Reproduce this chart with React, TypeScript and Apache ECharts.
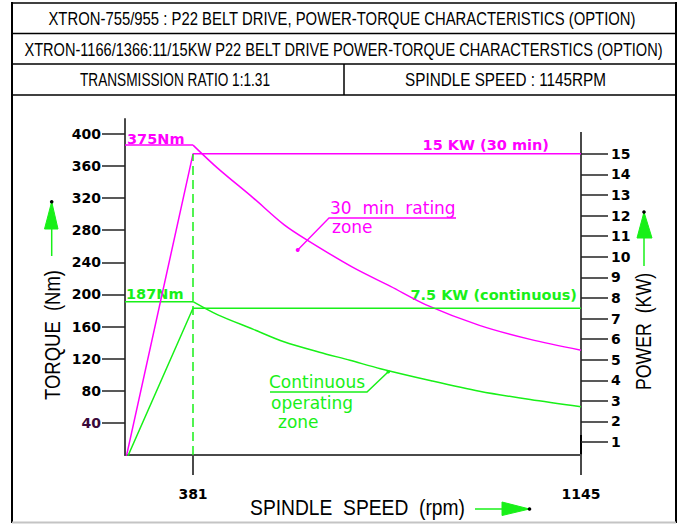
import React, { useEffect, useRef } from "react";
import * as echarts from "echarts";

// ---- data ----
const rpmS6 = [0, 381, 430, 500, 560, 605, 695, 770, 840, 945, 1045, 1145];
const torqueS6 = [386, 386, 357, 320, 287, 268, 234, 210, 187, 161.5, 144, 130.5];
const rpmS1 = [0, 381, 430, 500, 560, 630, 690, 750, 850, 945, 1045, 1145];
const torqueS1 = [191, 191, 174.5, 156.5, 141, 128, 118, 107.5, 92.5, 79.5, 69, 60];
const powerRpm = [0, 381, 1145];
const powerS6 = [0, 15, 15];
const powerS1 = [0, 7.5, 7.5];
const torqueTicks = [40, 80, 120, 160, 200, 240, 280, 320, 360, 400];
const powerTicks = [1, 2, 3, 4, 5, 6, 7, 8, 9, 10, 11, 12, 13, 14, 15];
const speedTicks = [381, 1145];
const baseSpeed = 381;
const maxSpeed = 1145;

// the drawing is not to scale on the speed axis: two linear segments
const SEG1 = 68;
const SEG2 = 388;
function speedPos(rpm: number) {
  return rpm <= baseSpeed
    ? (rpm * SEG1) / baseSpeed
    : SEG1 + ((rpm - baseSpeed) * SEG2) / (maxSpeed - baseSpeed);
}

const MAG = "#ff00ff";
const GRN = "#18f018";
const AX = "#4a4a4a";

function measure(text: string, font: string) {
  const c = document.createElement("canvas").getContext("2d")!;
  c.font = font;
  return c.measureText(text).width;
}

function fitText(
  text: string,
  cx: number,
  cy: number,
  width: number,
  size: number,
  family: string,
  rotation = 0,
  fill = "#000"
) {
  const w = measure(text, `${size}px ${family}`);
  return {
    type: "text",
    x: cx,
    y: cy,
    rotation,
    scaleX: width / w,
    style: {
      text,
      fontSize: size,
      fontFamily: family,
      fill,
      textAlign: "center",
      textVerticalAlign: "middle",
    },
  };
}

function txt(
  text: string,
  x: number,
  y: number,
  color: string,
  size: number,
  bold: boolean,
  align = "left"
) {
  return {
    type: "text",
    x,
    y,
    style: {
      text,
      fontSize: size,
      fontFamily: "DejaVu Sans",
      fontWeight: bold ? "bold" : "normal",
      fill: color,
      textAlign: align,
      textVerticalAlign: "middle",
    },
  };
}

function line(x1: number, y1: number, x2: number, y2: number, stroke: string, lw: number, dash?: number[]) {
  return {
    type: "line",
    shape: { x1, y1, x2, y2 },
    style: { stroke, lineWidth: lw, lineDash: dash },
  };
}

function arrow(points: number[][], tip: number[], tri: number[][]) {
  return [
    { type: "polyline", shape: { points }, style: { stroke: GRN, lineWidth: 1.5, fill: null } },
    { type: "polygon", shape: { points: tri }, style: { fill: GRN, stroke: GRN, lineWidth: 1 } },
    { type: "circle", shape: { cx: tip[0], cy: tip[1], r: 1.8 }, style: { fill: "#000" } },
  ];
}

function pairs(rpm: number[], vals: number[]) {
  return rpm.map((r, i) => [speedPos(r), vals[i]]);
}

export default function App() {
  const ref = useRef<HTMLDivElement>(null);
  useEffect(() => {
    if (!ref.current) return;
    const chart = echarts.init(ref.current, null, { renderer: "svg" });
    const HF = "Liberation Sans";
    const graphic: any[] = [
      // frame
      line(12, 2, 12, 523, "#000", 2),
      line(676, 2, 676, 523, "#000", 2),
      line(12, 3, 676, 3, "#000", 1.5),
      line(12, 33.5, 676, 33.5, "#000", 1.5),
      line(12, 64, 676, 64, "#000", 1.5),
      line(12, 95, 676, 95, "#000", 1.5),
      line(344, 64, 344, 95, "#000", 1.5),
      line(12, 522.5, 676, 522.5, "#c4c4c4", 2),
      // header text
      fitText("XTRON-755/955 : P22 BELT DRIVE, POWER-TORQUE CHARACTERISTICS (OPTION)", 342, 18.5, 588, 18, HF),
      fitText("XTRON-1166/1366:11/15KW P22 BELT DRIVE POWER-TORQUE CHARACTERSTICS (OPTION)", 343.5, 49, 639, 18, HF),
      fitText("TRANSMISSION RATIO 1:1.31", 175, 80, 190, 18, HF),
      fitText("SPINDLE SPEED : 1145RPM", 505.5, 80, 201, 18, HF),
      // axis titles
      fitText("TORQUE  (Nm)", 52, 335, 130, 22, HF, Math.PI / 2),
      fitText("POWER  (KW)", 643, 331.5, 117, 22, HF, Math.PI / 2),
      fitText("SPINDLE  SPEED  (rpm)", 357.5, 507.5, 215, 22, HF),
      // arrows
      ...arrow([[51.7, 256], [51.7, 202]], [51.7, 201.7], [[51.7, 201.7], [44.5, 229], [58, 229]]),
      ...arrow([[644, 266], [644, 212]], [644, 212], [[644, 212], [637, 238], [652, 238]]),
      ...arrow([[475, 509], [529, 509]], [529.5, 509], [[529.5, 509], [502, 502], [502, 515.5]]),
      // right axis line (extends beyond grid)
      line(581, 132, 581, 475, AX, 2),
      line(581, 435, 581, 455, "#000", 2),
      line(125, 424, 125, 455, "#000", 2, [1.5, 1.5]),
      // labels
      txt("375Nm", 127, 138.5, MAG, 14.5, true),
      txt("187Nm", 126, 293.5, GRN, 14.5, true),
      txt("15 KW (30 min)", 549, 144.5, MAG, 14.5, true, "right"),
      txt("7.5 KW (continuous)", 577, 295, GRN, 14.5, true, "right"),
      txt("30  min  rating", 330, 207.5, MAG, 17, false),
      txt("zone", 332, 226.5, MAG, 17, false),
      txt("Continuous", 269, 382, GRN, 17, false),
      txt("operating", 271, 402.5, GRN, 17, false),
      txt("zone", 278, 421.5, GRN, 17, false),
      // leaders
      { type: "polyline", shape: { points: [[456, 218], [329, 218], [297.7, 250]] }, style: { stroke: MAG, lineWidth: 1.3, fill: null } },
      { type: "circle", shape: { cx: 297.7, cy: 250, r: 2 }, style: { fill: MAG } },
      { type: "polyline", shape: { points: [[270, 392], [367, 392], [388.3, 371.7]] }, style: { stroke: GRN, lineWidth: 1.5, fill: null } },
      { type: "circle", shape: { cx: 388.3, cy: 371.7, r: 1.8 }, style: { fill: GRN } },
    ];

    const labelFont = { fontFamily: "DejaVu Sans", fontWeight: "bold", fontSize: 14, color: "#000" };
    const s6 = pairs(rpmS6, torqueS6);
    const s1 = pairs(rpmS1, torqueS1);
    const lineSeries = (name: string, data: number[][], color: string, yAxisIndex: number, smooth = false) => ({
      name,
      type: "line",
      yAxisIndex,
      symbol: "none",
      smooth: smooth ? 0.3 : false,
      lineStyle: { color, width: 1.5 },
      data,
      z: 3,
    });

    chart.setOption({
      animation: false,
      backgroundColor: "#fff",
      grid: { left: 125, top: 119, width: 456, height: 336, containLabel: false },
      xAxis: {
        type: "value",
        min: 0,
        max: speedPos(maxSpeed),
        axisLine: { show: true, lineStyle: { color: AX, width: 2 } },
        axisTick: {
          show: true,
          length: 20,
          inside: false,
          customValues: [speedPos(baseSpeed)],
          lineStyle: { color: AX, width: 2 },
        },
        axisLabel: {
          ...labelFont,
          margin: 32,
          customValues: speedTicks.map(speedPos),
          formatter: (v: number) => {
            const s = speedTicks.find((t) => Math.abs(speedPos(t) - v) < 0.01);
            return s === undefined ? "" : String(s);
          },
        },
        splitLine: { show: false },
      },
      yAxis: [
        {
          type: "value",
          min: 0,
          max: 418.5,
          position: "left",
          axisLine: { show: true, lineStyle: { color: AX, width: 2 } },
          axisTick: { show: true, length: 23, inside: false, customValues: torqueTicks, lineStyle: { color: "#222", width: 1.5 } },
          axisLabel: { ...labelFont, margin: 24, customValues: torqueTicks, padding: [0, 0, 6, 0],
            color: (v: any) => (Number(v) === 40 ? "#3a0a3a" : "#000") },
          splitLine: { show: false },
        },
        {
          type: "value",
          min: 0.37,
          max: 16.69,
          position: "right",
          axisLine: { show: false },
          axisTick: { show: true, length: 27, inside: false, customValues: powerTicks, lineStyle: { color: "#222", width: 1.5 } },
          axisLabel: { ...labelFont, margin: 30, customValues: powerTicks },
          splitLine: { show: false },
        },
      ],
      series: [
        lineSeries("Torque 30 min (constant)", s6.slice(0, 2), MAG, 0),
        lineSeries("Torque 30 min", s6.slice(1), MAG, 0, true),
        lineSeries("Torque continuous (constant)", s1.slice(0, 2), GRN, 0),
        {
          ...lineSeries("Torque continuous", s1.slice(1), GRN, 0, true),
          markLine: {
            silent: true,
            symbol: "none",
            label: { show: false },
            lineStyle: { color: GRN, width: 1.5, type: [9, 5] },
            data: [[{ coord: [speedPos(baseSpeed), 0] }, { coord: [speedPos(baseSpeed), 375] }]],
          },
        },
        lineSeries("Power 30 min", pairs(powerRpm, powerS6), MAG, 1),
        lineSeries("Power continuous", pairs(powerRpm, powerS1), GRN, 1),
      ],
      graphic,
    });
    return () => chart.dispose();
  }, []);
  return (
    <div
      ref={ref}
      style={{ position: "fixed", left: 0, top: 0, width: 683, height: 524, background: "#fff" }}
    />
  );
}
